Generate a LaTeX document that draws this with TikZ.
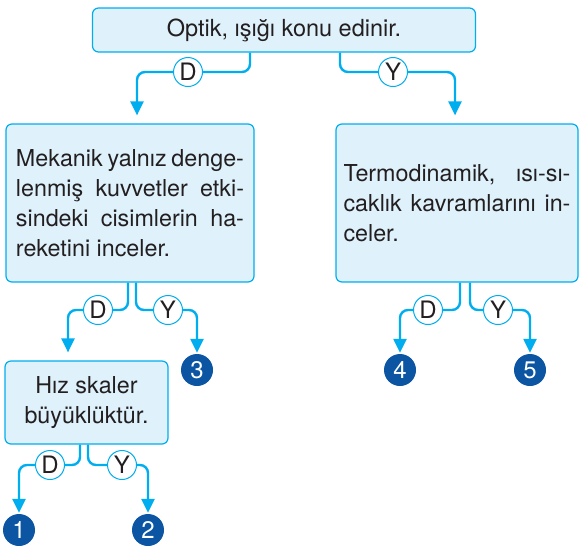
\documentclass[tikz,border=0pt]{standalone}
\usepackage{fontspec}
\setmainfont{TeX Gyre Heros}
\usetikzlibrary{arrows.meta}
\definecolor{cyanline}{HTML}{00AEEF}
\definecolor{boxfill}{HTML}{DFF2FB}
\definecolor{numblue}{HTML}{0B55A3}
\definecolor{ink}{HTML}{231F20}
\newcommand{\jline}[2]{\makebox[#1][s]{#2}}
\begin{document}
\begin{tikzpicture}[x=1pt,y=-1pt,
 box/.style={draw=cyanline, fill=boxfill, line width=1.2pt, rounded corners=6pt, inner sep=0pt, text=ink, font=\fontsize{23.3}{30}\selectfont},
 dy/.style={circle, draw=cyanline, fill=white, line width=1pt, minimum size=29pt, inner sep=0pt, text=ink, font=\fontsize{24}{24}\selectfont},
 num/.style={circle, fill=numblue, text=white, minimum size=32pt, inner sep=0pt, font=\fontsize{24}{24}\selectfont},
 lnk/.style={draw=cyanline, line width=2.4pt, rounded corners=8pt},
 arr/.style={lnk, -{Triangle[width=13pt,length=14pt]}},
]
\useasboundingbox (0,0) rectangle (580,547);

\node[box, minimum width=383pt, minimum height=44pt, font=\fontsize{23.5}{30}\selectfont] (top) at (284,30) {Optik, ışığı konu edinir.};
\node[box, minimum width=248pt, minimum height=158pt, align=left] (mek) at (130,203)
 {\jline{228pt}{Mekanik yalnız denge-}\\\jline{228pt}{lenmiş kuvvetler etki-}\\\jline{228pt}{sindeki cisimlerin ha-}\\reketini inceler.};
\node[box, minimum width=242pt, minimum height=158pt, align=left] (ter) at (457,203)
 {\jline{227pt}{Termodinamik, ısı-sı-}\\\jline{227pt}{caklık kavramlarını in-}\\celer.};
\node[box, minimum width=163pt, minimum height=83pt, align=center] (hiz) at (86.5,402.5)
 {Hız skaler\\büyüklüktür.};

\node[num] (n1) at (19,530) {1};
\node[num] (n2) at (148,530) {2};
\node[num] (n3) at (197,370) {3};
\node[num] (n4) at (400,370) {4};
\node[num] (n5) at (530,370) {5};

\node[dy] (D1) at (188,72) {D};
\node[dy] (Y1) at (393,72) {Y};
\node[dy] (D2) at (98,310) {D};
\node[dy] (Y2) at (168,310) {Y};
\node[dy] (D3) at (50,465) {D};
\node[dy] (Y3) at (122,465) {Y};
\node[dy] (D4) at (428,310) {D};
\node[dy] (Y4) at (498,310) {Y};

\draw[lnk] ([xshift=-34pt]top.south) |- (D1);
\draw[arr, shorten >=8pt] (D1) -| ([xshift=7pt]mek.north);
\draw[lnk] ([xshift=56pt]top.south) |- (Y1);
\draw[arr, shorten >=8pt] (Y1) -| ([xshift=-2pt]ter.north);

\draw[lnk] ([xshift=-2pt]mek.south) |- (D2);
\draw[arr, shorten >=8pt] (D2) -| ([xshift=-18.5pt]hiz.north);
\draw[lnk] ([xshift=6pt]mek.south) |- (Y2);
\draw[arr, shorten >=1pt] (Y2) -| (n3);

\draw[lnk] ([xshift=-6.5pt]hiz.south) |- (D3);
\draw[arr, shorten >=1pt] (D3) -| (n1);
\draw[lnk] ([xshift=1.5pt]hiz.south) |- (Y3);
\draw[arr, shorten >=1pt] (Y3) -| (n2);

\draw[lnk] ([xshift=3pt]ter.south) |- (D4);
\draw[arr, shorten >=1pt] (D4) -| (n4);
\draw[lnk] ([xshift=13pt]ter.south) |- (Y4);
\draw[arr, shorten >=1pt] (Y4) -| (n5);
\end{tikzpicture}
\end{document}
